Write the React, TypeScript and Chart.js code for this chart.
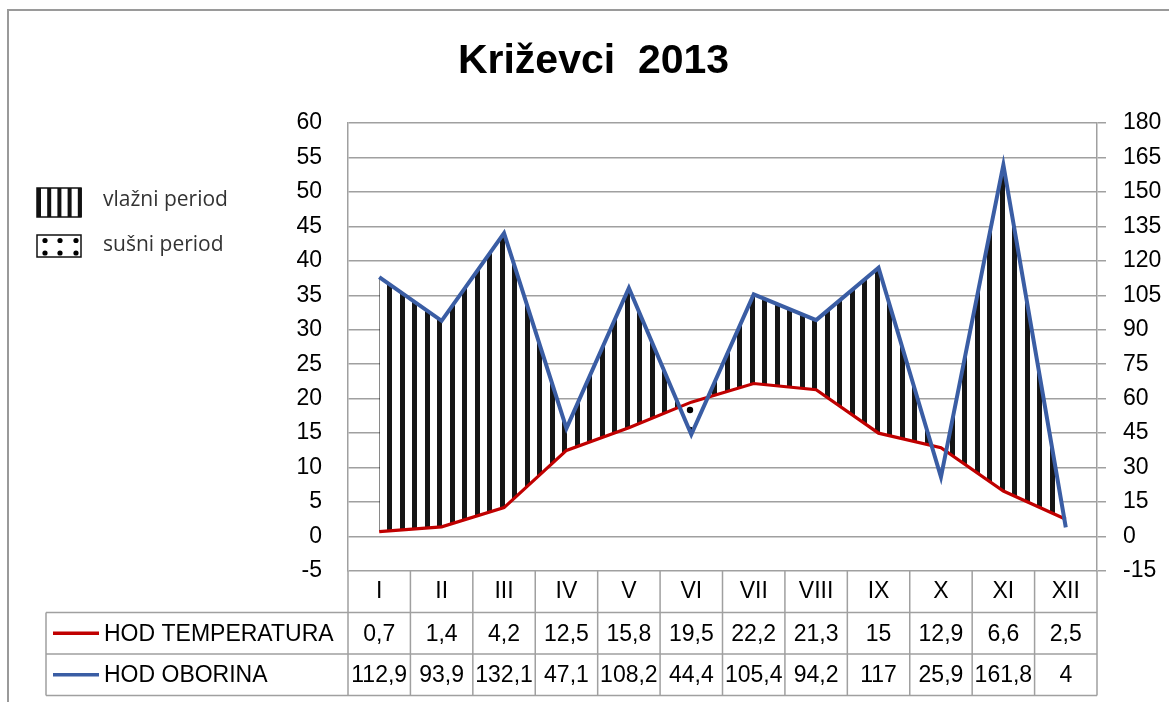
import React, { useEffect, useRef } from 'react';
import { Chart, registerables } from 'chart.js';

Chart.register(...registerables);

const months = ['I', 'II', 'III', 'IV', 'V', 'VI', 'VII', 'VIII', 'IX', 'X', 'XI', 'XII'];
const temperature = [0.7, 1.4, 4.2, 12.5, 15.8, 19.5, 22.2, 21.3, 15, 12.9, 6.6, 2.5];
const precipitation = [112.9, 93.9, 132.1, 47.1, 108.2, 44.4, 105.4, 94.2, 117, 25.9, 161.8, 4];
const seriesNames = ['HOD TEMPERATURA', 'HOD OBORINA'];
const legendLabels = ['vlažni period', 'sušni period'];
const titleText = 'Križevci  2013';

const RED = '#c00000';
const BLUE = '#3a5da4';
const GRID = '#a0a0a0';
const FONT = '"Liberation Sans", Arial, sans-serif';

const fmt = (v: number) => String(v).replace('.', ',');

function makeStripePattern(ctx: CanvasRenderingContext2D) {
  const c = document.createElement('canvas');
  c.width = 25;
  c.height = 25;
  const g = c.getContext('2d')!;
  g.fillStyle = '#ffffff';
  g.fillRect(0, 0, 25, 25);
  g.fillStyle = '#151515';
  g.fillRect(0, 0, 5, 25);
  g.fillRect(12, 0, 5, 25);
  return ctx.createPattern(c, 'repeat')!;
}

function makeDotPattern(ctx: CanvasRenderingContext2D) {
  const c = document.createElement('canvas');
  c.width = 20;
  c.height = 20;
  const g = c.getContext('2d')!;
  g.fillStyle = '#000000';
  g.beginPath();
  g.arc(10, 10, 3.2, 0, Math.PI * 2);
  g.fill();
  return ctx.createPattern(c, 'repeat')!;
}

const framePlugin = {
  id: 'frame',
  beforeDraw(chart: any) {
    const { ctx, width, height } = chart;
    ctx.save();
    ctx.fillStyle = '#ffffff';
    ctx.fillRect(0, 0, width, height);
    ctx.strokeStyle = '#9a9a9a';
    ctx.lineWidth = 2;
    ctx.beginPath();
    ctx.moveTo(8, height);
    ctx.lineTo(8, 10);
    ctx.lineTo(width, 10);
    ctx.stroke();
    ctx.restore();
  },
};

const legendPlugin = {
  id: 'periodLegend',
  afterDraw(chart: any) {
    const { ctx } = chart;
    ctx.save();
    ctx.fillStyle = '#ffffff';
    ctx.fillRect(37, 188, 44, 29);
    ctx.fillStyle = '#111111';
    for (let i = 0; i < 5; i++) {
      ctx.fillRect(37 + i * 10.2, 188, 4, 29);
    }
    ctx.strokeStyle = '#111111';
    ctx.lineWidth = 1.5;
    ctx.strokeRect(37, 188, 44, 29);
    ctx.strokeRect(37, 235, 44, 22);
    ctx.fillStyle = '#000000';
    [45, 60, 76].forEach((dx) => {
      [240.5, 253].forEach((dy) => {
        ctx.beginPath();
        ctx.arc(dx, dy, 2.6, 0, Math.PI * 2);
        ctx.fill();
      });
    });
    ctx.font = '21px "Open Sans", sans-serif';
    ctx.fillStyle = '#333333';
    ctx.textAlign = 'left';
    ctx.textBaseline = 'middle';
    ctx.fillText(legendLabels[0], 103, 200);
    ctx.fillText(legendLabels[1], 103, 245);
    ctx.restore();
  },
};

const tablePlugin = {
  id: 'dataTable',
  afterDraw(chart: any) {
    const { ctx, chartArea, scales } = chart;
    const xs = scales.x;
    const n = months.length;
    const colW = (chartArea.right - chartArea.left) / n;
    const top = chartArea.bottom;
    const rowH = 41.5;
    const r1 = top + rowH;
    const r2 = r1 + rowH;
    const r3 = r2 + rowH;
    const tableLeft = 46;
    ctx.save();
    ctx.strokeStyle = GRID;
    ctx.lineWidth = 1.5;
    ctx.beginPath();
    [r1, r2, r3].forEach((y) => {
      ctx.moveTo(tableLeft, y);
      ctx.lineTo(chartArea.right, y);
    });
    for (let i = 0; i <= n; i++) {
      const x = chartArea.left + i * colW;
      ctx.moveTo(x, top);
      ctx.lineTo(x, r3);
    }
    ctx.moveTo(tableLeft, r1);
    ctx.lineTo(tableLeft, r3);
    ctx.stroke();

    const rows = [
      { name: seriesNames[0], color: RED, values: temperature, y: (r1 + r2) / 2 },
      { name: seriesNames[1], color: BLUE, values: precipitation, y: (r2 + r3) / 2 },
    ];
    ctx.font = '23px ' + FONT;
    ctx.textBaseline = 'middle';
    rows.forEach((row) => {
      ctx.strokeStyle = row.color;
      ctx.lineWidth = 3.5;
      ctx.beginPath();
      ctx.moveTo(53, row.y);
      ctx.lineTo(99, row.y);
      ctx.stroke();
      ctx.fillStyle = '#000000';
      ctx.textAlign = 'left';
      ctx.fillText(row.name, 104, row.y + 1);
      ctx.textAlign = 'center';
      row.values.forEach((v, i) => {
        ctx.fillText(fmt(v), xs.getPixelForValue(i), row.y + 1);
      });
    });
    ctx.restore();
  },
};

export default function App() {
  const ref = useRef<HTMLCanvasElement>(null);

  useEffect(() => {
    const canvas = ref.current!;
    const ctx = canvas.getContext('2d')!;
    const stripes = makeStripePattern(ctx);
    const dots = makeDotPattern(ctx);
    Chart.defaults.font.family = FONT;

    const chart = new Chart(canvas, {
      type: 'line',
      data: {
        labels: months,
        datasets: [
          {
            label: seriesNames[1],
            data: precipitation,
            yAxisID: 'y1',
            borderColor: BLUE,
            borderWidth: 4,
            pointRadius: 0,
            tension: 0,
            fill: { target: 1, above: stripes as any, below: dots as any },
          },
          {
            label: seriesNames[0],
            data: temperature,
            yAxisID: 'y',
            borderColor: RED,
            borderWidth: 3.2,
            pointRadius: 0,
            tension: 0,
            fill: false,
          },
        ],
      },
      options: {
        responsive: false,
        animation: false,
        layout: { padding: { left: 18, right: 0, top: 0, bottom: 0 } },
        plugins: {
          legend: { display: false },
          tooltip: { enabled: false },
          filler: { drawTime: 'beforeDatasetsDraw' } as any,
          title: {
            display: true,
            text: titleText,
            color: '#000000',
            font: { size: 41, weight: 'bold', family: FONT },
            padding: { top: 37, bottom: 36.8 },
          },
        },
        scales: {
          x: {
            type: 'category',
            offset: true,
            grid: { display: false, drawTicks: false },
            border: { display: false },
            ticks: {
              color: '#000000',
              font: { size: 23 },
              padding: 7,
              maxRotation: 0,
              autoSkip: false,
            },
            afterFit: (s: any) => {
              s.height = 131;
            },
          },
          y: {
            position: 'left',
            min: -5,
            max: 60,
            grid: { color: GRID, lineWidth: 1.5, drawTicks: false },
            border: { display: true, color: GRID, width: 1.5 },
            ticks: { stepSize: 5, color: '#000000', font: { size: 23 }, padding: 26 },
            afterFit: (s: any) => {
              s.width = 330;
            },
          },
          y1: {
            position: 'right',
            min: -15,
            max: 180,
            grid: { drawOnChartArea: false, drawTicks: true, tickLength: 9, color: GRID, lineWidth: 1.5 },
            border: { display: true, color: GRID, width: 1.5 },
            ticks: { stepSize: 15, color: '#000000', font: { size: 23 }, padding: 17 },
            afterFit: (s: any) => {
              s.width = 72;
            },
          },
        },
      },
      plugins: [framePlugin, tablePlugin, legendPlugin],
    });
    return () => chart.destroy();
  }, []);

  return (
    <div style={{ position: 'absolute', left: 0, top: 0, width: 1169, height: 702 }}>
      <canvas ref={ref} width={1169} height={702} style={{ display: 'block', width: 1169, height: 702 }} />
    </div>
  );
}
